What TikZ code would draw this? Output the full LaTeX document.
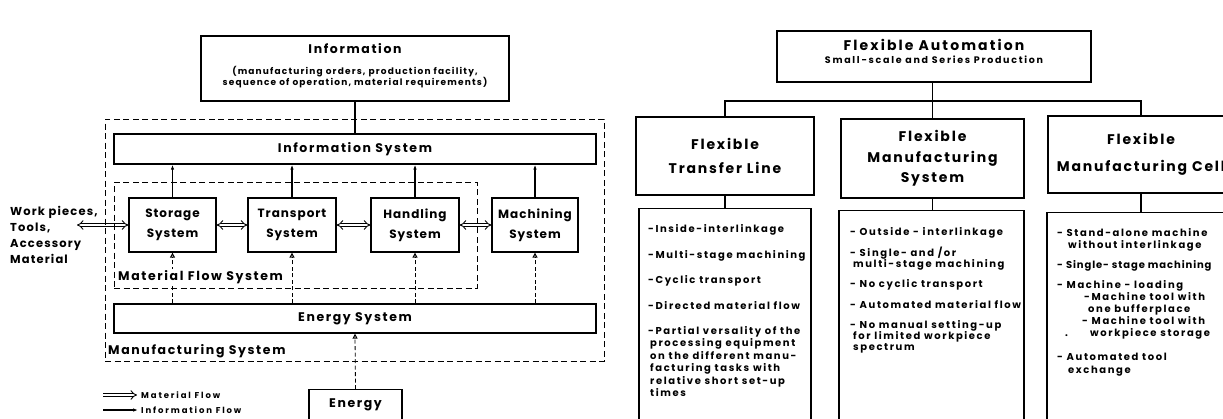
\documentclass[tikz,border=0pt]{standalone}
\usepackage{fontspec}
\setmainfont{Poppins}[LetterSpace=10]
\usetikzlibrary{arrows.meta}
\newcommand\fmain{\fontsize{12.5}{20}\selectfont\bfseries\addfontfeature{LetterSpace=13}}
\newcommand\fsys{\fontsize{12}{20}\selectfont\bfseries\addfontfeature{LetterSpace=8}}
\newcommand\fsubt{\fontsize{9}{10.5}\selectfont\bfseries\addfontfeature{LetterSpace=13}}
\newcommand\fatitle{\fontsize{14}{16}\selectfont\bfseries\addfontfeature{LetterSpace=15}}
\newcommand\fasub{\fontsize{9.5}{11}\selectfont\bfseries\addfontfeature{LetterSpace=18}}
\newcommand\fbig{\fontsize{14}{20.5}\selectfont\bfseries\addfontfeature{LetterSpace=13}}
\newcommand\fdesc[1]{\fontsize{10}{#1}\selectfont\bfseries\addfontfeature{LetterSpace=16}}
\newcommand\fleg{\fontsize{8.5}{9}\selectfont\bfseries\addfontfeature{LetterSpace=22}}
\newcommand\fwork{\fontsize{11.5}{16}\selectfont\bfseries}
\tikzset{
  box/.style={draw, line width=1.3pt, inner sep=0pt, fill=white},
  frame/.style={draw, line width=0.9pt, dash pattern=on 6pt off 3.5pt, inner sep=0pt},
  conn/.style={line width=1.3pt},
  inf/.style={line width=1.1pt, -{Latex[length=5pt,width=3.5pt]}},
  en/.style={line width=0.8pt, dash pattern=on 4pt off 2.5pt, -{Triangle[open,length=5pt,width=5pt,line width=1pt]}},
  mat/.style={double, double distance=2.4pt, line width=0.9pt},
  item/.style={anchor=base west, align=left, inner sep=0pt}
}
\begin{document}
\begin{tikzpicture}[x=1pt,y=-1pt]
\useasboundingbox (0,0) rectangle (1223,418);
\fill[white] (0,0) rectangle (1223,418);

% ---------- left diagram ----------
\node[box, minimum width=308pt, minimum height=65pt] (info) at (355,68.5) {};
\node[font=\fmain, inner sep=0pt] (infoT) at (355,49) {Information};
\node[font=\fsubt, align=center, inner sep=0pt] (infoS) at (355,77) {(manufacturing orders, production facility,\\sequence of operation, material requirements)};

\node[box, minimum width=482pt, minimum height=30pt, font=\fmain] (infosys) at (355,149) {Information System};

\node[box, minimum width=87pt, minimum height=54pt, font=\fsys, align=center] (storage) at (172.5,225) {Storage\\System};
\node[box, minimum width=88pt, minimum height=54pt, font=\fsys, align=center] (transport) at (292,225) {Transport\\System};
\node[box, minimum width=88pt, minimum height=54pt, font=\fsys, align=center] (handling) at (415,225) {Handling\\System};
\node[box, minimum width=86pt, minimum height=54pt, font=\fsys, align=center] (machining) at (535,225) {Machining\\System};

\node[box, minimum width=482pt, minimum height=29pt, font=\fmain] (energysys) at (355,318.5) {Energy System};

\node[box, minimum width=93pt, minimum height=50pt, anchor=north] (energy) at (355.5,389) {};
\node[font=\fmain, inner sep=0pt] (energyT) at (355.5,405) {Energy};

% information flow
\draw[conn] (info) -- (infosys);
\draw[inf] (storage.north) -- (storage.north |- infosys.south);
\draw[inf] (transport.north) -- (transport.north |- infosys.south);
\draw[inf] (handling.north) -- (handling.north |- infosys.south);
\draw[inf] (machining.north) -- (machining.north |- infosys.south);

% energy flow
\draw[en] (storage.south |- energysys.north) -- (storage.south);
\draw[en] (transport.south |- energysys.north) -- (transport.south);
\draw[en] (handling.south |- energysys.north) -- (handling.south);
\draw[en] (machining.south |- energysys.north) -- (machining.south);
\draw[en] (energy.north) -- (energysys.south);

% material flow
\coordinate (wp) at (77,225);
\draw[mat, {Implies}-{Implies}] (wp) -- (storage.west);
\draw[mat, {Implies}-{Implies}] (storage) -- (transport);
\draw[mat, {Implies}-{Implies}] (transport) -- (handling);
\draw[mat, {Implies}-{Implies}] (handling) -- (machining);

% frames
\node[frame, minimum width=499pt, minimum height=242pt] (mfg) at (354.5,240) {};
\node[frame, minimum width=363pt, minimum height=106pt] (mfs) at (295.5,235) {};
\node[font=\fmain, anchor=west, fill=white, inner sep=1pt] (mfsL) at (117,277) {Material Flow System};
\node[font=\fmain, anchor=west, inner sep=1pt] (mfgL) at (107,351) {Manufacturing System};

\node[font=\fwork, anchor=west, align=left, inner sep=0pt] (wpT) at (10,235) {Work pieces,\\Tools,\\Accessory\\Material};

% legend
\coordinate (lm1) at (103,395); \coordinate (lm2) at (137,395);
\draw[mat, -{Implies}] (lm1) -- (lm2);
\node[font=\fleg, anchor=west, inner sep=0pt] (legM) at (141,395) {Material Flow};
\coordinate (li1) at (103,410); \coordinate (li2) at (138,410);
\draw[inf] (li1) -- (li2);
\node[font=\fleg, anchor=west, inner sep=0pt] (legI) at (141,410) {Information Flow};

% ---------- right diagram ----------
\node[box, minimum width=314pt, minimum height=51pt] (fa) at (934,56.5) {};
\node[font=\fatitle, inner sep=0pt] (faT) at (934,45) {Flexible Automation};
\node[font=\fasub, inner sep=0pt] (faS) at (934,60) {Small-scale and Series Production};

\node[box, minimum width=178pt, minimum height=78pt, font=\fbig, align=center] (ftl) at (725,156) {Flexible\\[4pt]Transfer Line};
\node[box, minimum width=183pt, minimum height=79pt, font=\fbig, align=center] (fms) at (932.5,158.5) {Flexible\\Manufacturing\\System};
\node[box, minimum width=186pt, minimum height=77pt, font=\fbig, align=center] (fmc) at (1141,154.5) {Flexible\\[6pt]Manufacturing Cell};

\coordinate (j) at (932.5,101);
\draw[conn] (fa.south -| j) -- (j);
\draw[conn] (ftl.north) |- (fmc.north |- j) -- (fmc.north);
\draw[conn] (j) -- (fms.north);

\node[box, minimum width=172pt, minimum height=240pt, anchor=north] (d1) at (725,208) {};
\node[box, minimum width=185pt, minimum height=240pt, anchor=north] (d2) at (931.5,210) {};
\node[box, minimum width=188pt, minimum height=240pt, anchor=north] (d3) at (1141,212) {};
\draw[conn] (ftl.south) -- (ftl.south |- d1.north);
\draw[conn] (fms.south) -- (fms.south |- d2.north);
\draw[conn] (fmc.south) -- (fmc.south |- d3.north);

% box 1 text (multi-line nodes are placed at the baseline of their last line)
\node[item, font={\fdesc{12.5}}] (a1) at (648,232) {-Inside-interlinkage};
\node[item, font={\fdesc{12.5}}] (a2) at (648,258) {-Multi-stage machining};
\node[item, font={\fdesc{12.5}}] (a3) at (648,283) {-Cyclic transport};
\node[item, font={\fdesc{12.5}}] (a4) at (648,309) {-Directed material flow};
\node[item, font={\fdesc{12.5}}] (a5) at (648,396.5) {-Partial versality of the\\\hspace*{2pt}processing equipment\\\hspace*{2pt}on the different manu-\\\hspace*{2pt}facturing tasks with\\\hspace*{2pt}relative short set-up\\\hspace*{2pt}times};

% box 2 text
\node[item, font={\fdesc{11}}] (b1) at (850,235) {- Outside - interlinkage};
\node[item, font={\fdesc{11}}] (b2) at (850,267) {- Single- and /or\\\hspace*{3pt}multi-stage machining};
\node[item, font={\fdesc{11}}] (b3) at (850,287) {- No cyclic transport};
\node[item, font={\fdesc{11}}] (b4) at (850,308) {- Automated material flow};
\node[item, font={\fdesc{11}}] (b5) at (850,350) {- No manual setting-up\\\hspace*{3pt}for limited workpiece\\\hspace*{3pt}spectrum};

% box 3 text
\node[item, font={\fdesc{12}}] (c1) at (1057,248) {- Stand-alone machine\\\hspace*{11pt}without interlinkage};
\node[item, font={\fdesc{12}\addfontfeature{LetterSpace=9}}] (c2) at (1057,268) {- Single- stage machining};
\node[item, font={\fdesc{12}}] (c3) at (1057,288) {- Machine - loading};
\node[item, font={\fdesc{12}}] (c4) at (1084,312) {-Machine tool with\\\hspace*{4pt}one bufferplace};
\node[item, font={\fdesc{12}}] (c5) at (1082,324) {- Machine tool with};
\node[item, font={\fdesc{12}}] (c6) at (1065,336) {.};
\node[item, font={\fdesc{12}}] (c7) at (1090,336) {workpiece storage};
\node[item, font={\fdesc{13}}] (c8) at (1057,373) {- Automated tool\\\hspace*{11pt}exchange};

\end{tikzpicture}
\end{document}
